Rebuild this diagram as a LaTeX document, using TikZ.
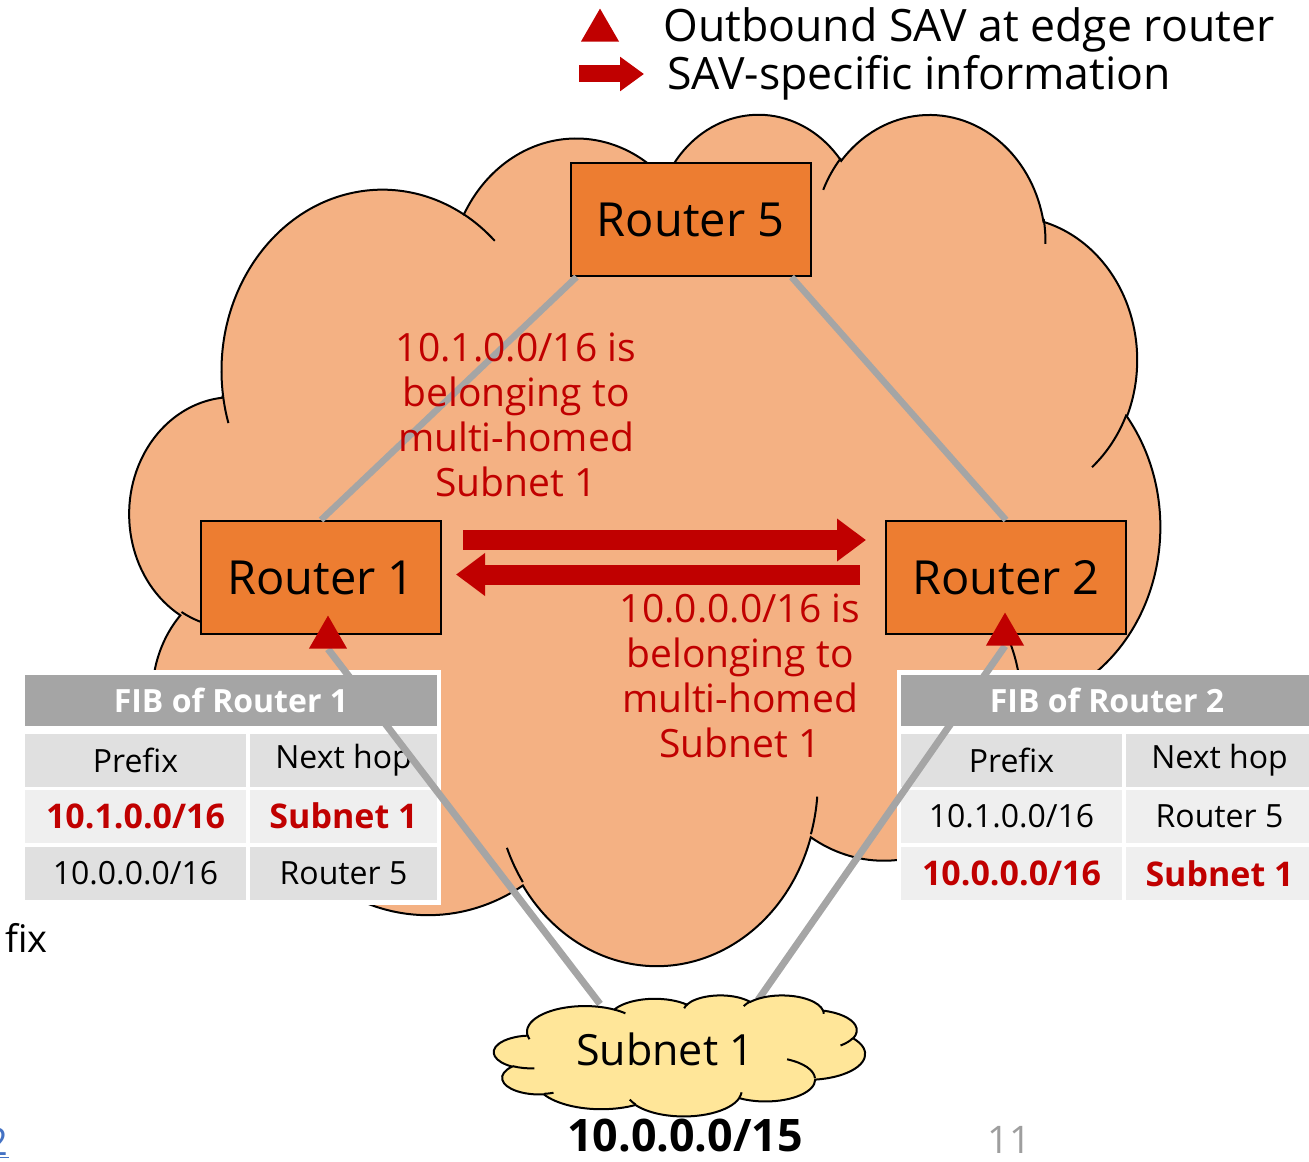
\documentclass[tikz,border=0pt]{standalone}
\usepackage{fontspec}
\setmainfont{Open Sans}
\usetikzlibrary{arrows.meta,positioning,shapes.geometric,calc}

\definecolor{savred}{HTML}{C00000}
\definecolor{routerorange}{HTML}{ED7D31}
\definecolor{cloudorange}{HTML}{F4B183}
\definecolor{subnetyellow}{HTML}{FFE699}
\definecolor{linkgray}{HTML}{A5A5A5}
\definecolor{celldark}{HTML}{E0E0E0}
\definecolor{celllight}{HTML}{EFEFEF}
\definecolor{pagegray}{HTML}{9E9E9E}
\definecolor{linkblue}{HTML}{4472C4}

\tikzset{
    % arc with the angles of an office shape
    ooarc/.style n args={4}{insert path={
        arc[start angle={atan2((#1)*sin(#3),(#2)*cos(#3))},
            delta angle={mod(atan2((#1)*sin((#3)+(#4)),(#2)*cos((#3)+(#4)))-atan2((#1)*sin(#3),(#2)*cos(#3))+900,360)-180},
            x radius=#1, y radius=#2]}},
    pics/oocloud/.style={code={
        \filldraw[line width=1pt] (39.00,143.70)
            [ooarc={67.53}{91.90}{-190.4875}{123.7805}]
            [ooarc={53.33}{72.67}{-144.1024}{89.9452}]
            [ooarc={43.65}{59.45}{-145.8079}{99.7230}]
            [ooarc={48.57}{65.95}{-130.9861}{117.2417}]
            [ooarc={53.33}{72.73}{-78.7089}{109.0269}]
            [ooarc={67.75}{92.20}{-46.2673}{130.2690}]
            [ooarc={57.85}{78.67}{0.6250}{114.0333}]
            [ooarc={67.52}{92.15}{22.4516}{115.1726}]
            [ooarc={77.20}{105.43}{66.2426}{75.7110}]
            [ooarc={43.60}{59.18}{-274.9421}{146.7356}]
            [ooarc={43.45}{59.45}{-246.8285}{152.5189}] -- cycle;
        \draw[line width=1pt]
            (46.93,261.77) [ooarc={43.45}{59.45}{86.7420}{26.4295}]
            (69.28,348.99) [ooarc={43.60}{59.18}{73.6105}{11.4475}]
            (164.78,390.90) [ooarc={67.52}{92.15}{137.6242}{14.0811}]
            (288.27,347.51) [ooarc={67.52}{92.15}{6.4533}{15.9984}]
            (341.29,229.54) [ooarc={57.85}{78.67}{-70.2924}{66.9330}]
            (417.98,153.54) [ooarc={53.33}{72.73}{30.3180}{27.7515}]
            (383.24,54.26) [ooarc={48.57}{65.95}{-13.7443}{14.8589}]
            (290.78,39.52) [ooarc={48.57}{65.95}{-149.1815}{18.1954}]
            (221.41,47.20) [ooarc={43.65}{59.45}{-163.4943}{19.0100}]
            (140.00,51.92) [ooarc={67.53}{91.90}{-66.7070}{12.3194}]
            (41.27,157.89) [ooarc={67.53}{91.90}{157.6544}{11.8582}];
    }}
}

\begin{document}
\begin{tikzpicture}[
    x=0.5pt, y=-0.5pt,
    router/.style={draw, line width=1pt, fill=routerorange, inner sep=0pt,
        minimum width=120pt, minimum height=56.5pt,
        font=\fontsize{23.5pt}{28pt}\selectfont},
    link/.style={draw=linkgray, line width=3.25pt},
    savtri/.style={regular polygon, regular polygon sides=3, fill=savred,
        inner sep=0pt, minimum size=22pt},
    info/.style={draw=savred, line width=10pt, -{Triangle[width=20.5pt,length=14.5pt]}},
    claim/.style={text=savred, align=center, font=\fontsize{19.5pt}{22.5pt}\selectfont},
    fibhead/.style={fill=linkgray, text=white, inner sep=0pt,
        minimum width=206pt, minimum height=25.5pt,
        font=\fontsize{16pt}{19pt}\selectfont\bfseries},
    fibcell/.style={fill=celldark, inner sep=0pt, minimum height=26.5pt,
        font=\fontsize{16pt}{19pt}\selectfont},
    prefcol/.style={fibcell, minimum width=110.5pt},
    hopcol/.style={fibcell, minimum width=93.5pt},
    light/.style={fill=celllight},
    hit/.style={light, text=savred, font=\fontsize{17pt}{20pt}\selectfont\bfseries},
    legend/.style={anchor=base west, inner sep=0pt, font=\fontsize{22.3pt}{26pt}\selectfont}
]
\useasboundingbox (0,0) rectangle (1309,1161);
\clip (0,0) rectangle (1309,1161);

% Netz
\pic[fill=cloudorange, xscale=2.384, yscale=1.970] at (130,112) {oocloud};

% Router
\node[router] (r5) at (690.5,219.5) {Router 5};
\node[router] (r1) at (321,577.5) {Router 1};
\node[router] (r2) at (1006,577.5) {Router 2};

\draw[link] ([xshift=3.5pt]r5.south west) -- (r1.north);
\draw[link] ([xshift=-10pt]r5.south east) -- (r2.north);

% SAV-Informationen
\node[claim] (claim1) at (516,415) {10.1.0.0/16 is\\belonging to\\multi-homed\\Subnet 1};
\node[claim] (claim2) at (740,676) {10.0.0.0/16 is\\belonging to\\multi-homed\\Subnet 1};
\draw[info, shorten <=10.5pt, shorten >=9.5pt] ([yshift=18.75pt]r1.east) -- ([yshift=18.75pt]r2.west);
\draw[info, shorten <=12.5pt, shorten >=7pt] ([yshift=1.5pt]r2.west) -- ([yshift=1.5pt]r1.east);

% FIB Router 1
\fill[white] (21,670) rectangle (441,905);
\node[fibhead] (fib1) at (231,700) {FIB of Router 1};
\node[prefcol] (p1h) at (135.5,760) {Prefix};
\node[hopcol] (n1h) at (343.5,760) {Next hop};
\node[prefcol, hit] (p1a) at (135.5,816) {10.1.0.0/16};
\node[hopcol, hit] (n1a) at (343.5,816) {Subnet 1};
\node[prefcol] (p1b) at (135.5,873.5) {10.0.0.0/16};
\node[hopcol] (n1b) at (343.5,873.5) {Router 5};

% FIB Router 2
\fill[white] (897,670) rectangle (1313,905);
\node[fibhead] (fib2) at (1107,700) {FIB of Router 2};
\node[prefcol] (p2h) at (1011.5,760) {Prefix};
\node[hopcol] (n2h) at (1219.5,760) {Next hop};
\node[prefcol, light] (p2a) at (1011.5,816) {10.1.0.0/16};
\node[hopcol, light] (n2a) at (1219.5,816) {Router 5};
\node[prefcol, hit] (p2b) at (1011.5,873.5) {10.0.0.0/16};
\node[hopcol, hit] (n2b) at (1219.5,873.5) {Subnet 1};

% Subnet 1 und SAV
\coordinate (s1l) at (600,1004);
\coordinate (s1r) at (758,1000);
\coordinate (t1base) at (328,649);
\coordinate (t2base) at (1005,646);
\draw[link, line width=3.5pt] (s1l) -- (t1base);
\draw[link, line width=3.5pt] (s1r) -- (t2base);
\node[savtri, anchor=south] (t1) at (t1base) {};
\node[savtri, anchor=south] (t2) at (t2base) {};

\pic[fill=subnetyellow, xscale=0.8588, yscale=0.2801] at (494,995) {oocloud};
\node[anchor=base, inner sep=0pt, font=\fontsize{21.5pt}{26pt}\selectfont] (subnet) at (665,1065) {Subnet 1};
\node[anchor=base, inner sep=0pt, font=\fontsize{22.4pt}{26pt}\selectfont\bfseries] (pfx) at (685,1151) {10.0.0.0/15};

% Legende
\node[savtri, anchor=south] (legtri) at (600,42) {};
\node[legend] (legsav) at (663,42) {Outbound SAV at edge router};
\coordinate (legs) at (579,74);
\coordinate (lege) at (644,74);
\draw[draw=savred, line width=8.5pt, -{Triangle[width=16.5pt,length=12pt]}] (legs) -- (lege);
\node[legend] (leginfo) at (667,90) {SAV-specific information};

% Reste der Folie
\node[anchor=base, inner sep=0pt, text=pagegray, font=\fontsize{19pt}{23pt}\selectfont] (pgno) at (1009,1153) {11};
\node[anchor=base east, inner sep=0pt, font=\fontsize{19pt}{23pt}\selectfont] (frag) at (48,952) {fix};
\node[anchor=base east, inner sep=0pt, text=linkblue, font=\fontsize{19pt}{23pt}\selectfont] (lnk) at (9,1155) {\underline{2}};
\end{tikzpicture}
\end{document}
